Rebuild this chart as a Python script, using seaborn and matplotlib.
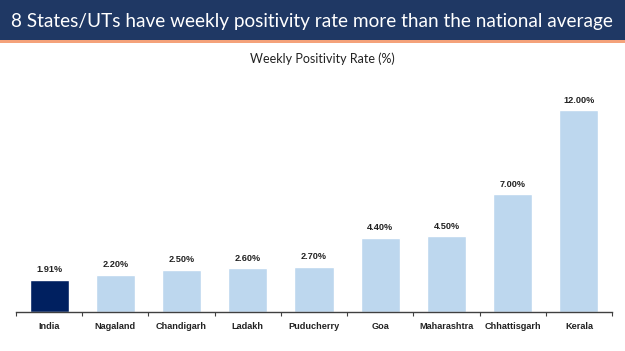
import matplotlib
matplotlib.use("Agg")
import matplotlib.pyplot as plt
import seaborn as sns
import pandas as pd
from matplotlib.patches import Rectangle

categories = ["India", "Nagaland", "Chandigarh", "Ladakh", "Puducherry",
              "Goa", "Maharashtra", "Chhattisgarh", "Kerala"]
values = [1.91, 2.20, 2.50, 2.60, 2.70, 4.40, 4.50, 7.00, 12.00]
value_labels = ["1.91%", "2.20%", "2.50%", "2.60%", "2.70%",
                "4.40%", "4.50%", "7.00%", "12.00%"]
title = "8 States/UTs have weekly positivity rate more than the national average"
subtitle = "Weekly Positivity Rate (%)"

df = pd.DataFrame({"state": categories, "rate": values})
palette = {c: ("#002060" if c == "India" else "#BDD7EE") for c in categories}

sns.set_theme(style="white")
plt.rcParams['font.family'] = ['Lato', 'DejaVu Sans']

fig = plt.figure(figsize=(6.25, 3.51), dpi=100)
fig.patch.set_facecolor("white")
# title bar
fig.patches.append(Rectangle((0, 1 - 40/351), 1, 40/351, transform=fig.transFigure,
                             facecolor="#1F3864", edgecolor="none", zorder=0))
fig.patches.append(Rectangle((0, 1 - 43/351), 1, 3/351, transform=fig.transFigure,
                             facecolor="#F4A27A", edgecolor="none", zorder=0))
fig.text(0.4985, 1 - 21/351, title, color="white", fontsize=13.7, ha="center", va="center")
fig.text(0.515, 1 - 59/351, subtitle, color="#222222", fontsize=9, ha="center", va="center")

ax = fig.add_axes([16/625, 1 - 312/351, 596/625, (312 - 75)/351])
sns.barplot(data=df, x="state", y="rate", hue="state", palette=palette,
            legend=False, width=0.59, saturation=1, ax=ax)
ax.set_ylim(0, 14.1)
ax.set_xlim(-0.5, len(categories) - 0.5)
lab_kw = {"fontsize": 6.6, "fontweight": "bold", "fontfamily": ["Liberation Sans", "DejaVu Sans"]}
for cont, lab in zip(ax.containers, value_labels):
    ax.bar_label(cont, labels=[lab], padding=4, color="#222222", **lab_kw)

for s in ["top", "right", "left"]:
    ax.spines[s].set_visible(False)
ax.spines["bottom"].set_color("#404040")
ax.spines["bottom"].set_linewidth(1.0)
ax.set_yticks([])
ax.set_xlabel("")
ax.set_ylabel("")
ax.set_xticks(range(len(categories)))
ax.set_xticklabels(categories, color="#222222", **lab_kw)
ax.tick_params(axis="x", which="major", length=0, pad=7)
ax.set_xticks([i - 0.5 for i in range(len(categories) + 1)], minor=True)
ax.tick_params(axis="x", which="minor", length=3, width=0.8, color="#404040", bottom=True)

fig.savefig("out.png", dpi=100)
